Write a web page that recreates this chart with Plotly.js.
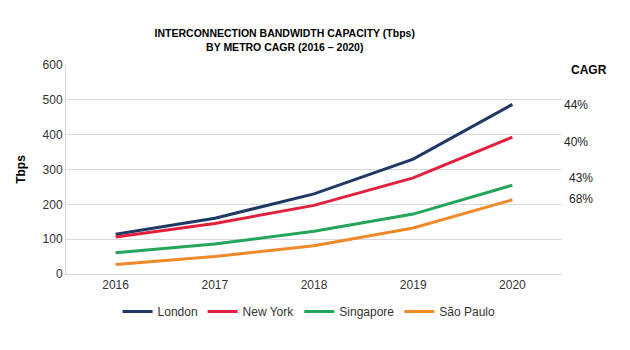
<!DOCTYPE html>
<html>
<head>
<meta charset="utf-8">
<script src="https://cdn.plot.ly/plotly-3.0.1.min.js"></script>
<style>html,body{margin:0;padding:0;background:#fff;}#chart{width:630px;height:350px;}</style>
</head>
<body>
<div id="chart"></div>
<script>
const years = ['2016', '2017', '2018', '2019', '2020'];
const london = [114, 160, 230, 330, 487];
const newYork = [106, 145, 197, 276, 393];
const singapore = [61, 86, 123, 172, 255];
const saoPaulo = [27, 50, 81, 132, 213];
const seriesNames = ['London', 'New York', 'Singapore', 'São Paulo'];
const seriesColors = ['#1f3864', '#e0203c', '#25a55a', '#f0892a'];
const cagrLabels = ['44%', '40%', '43%', '68%'];
const cagrY = [0.809, 0.632, 0.459, 0.359];

const allSeries = [london, newYork, singapore, saoPaulo];
const traces = allSeries.map((vals, i) => ({
  x: years, y: vals, type: 'scatter', mode: 'lines', name: seriesNames[i],
  line: {color: seriesColors[i], width: 3}
}));

const font = 'Liberation Sans, Arial, sans-serif';
const annotations = [{
  xref: 'paper', yref: 'paper', x: 1.015, y: 0.976, xanchor: 'left', yanchor: 'middle',
  text: '<b>CAGR</b>', showarrow: false, font: {family: font, size: 12, color: '#000'}
}].concat(cagrLabels.map((t, i) => ({
  xref: 'paper', yref: 'paper', x: i >= 2 ? 1.01 : 1.0, y: cagrY[i], xanchor: 'left', yanchor: 'middle',
  text: t, showarrow: false, font: {family: font, size: 12, color: '#222'}
})));

const layout = {
  width: 630, height: 350,
  margin: {l: 66, r: 68, t: 65, b: 76, autoexpand: false},
  paper_bgcolor: '#fff', plot_bgcolor: '#fff',
  font: {family: font, size: 12, color: '#333'},
  title: {text: '<b>INTERCONNECTION BANDWIDTH CAPACITY (Tbps)<br>BY METRO CAGR (2016 – 2020)</b>',
    x: 0.452, xanchor: 'center', y: 0.893, yanchor: 'middle', font: {family: font, size: 10.5, color: '#000'}},
  xaxis: {type: 'category', range: [-0.5, 4.5], showgrid: false, zeroline: false,
    showline: true, linecolor: '#d9d9d9', ticks: '', tickfont: {size: 12, color: '#333'}},
  yaxis: {range: [0, 600], dtick: 100, showgrid: true, gridcolor: '#d9d9d9', zeroline: false,
    showline: true, linecolor: '#d9d9d9', ticks: '', tickfont: {size: 12, color: '#333'},
    title: {text: '<b>Tbps</b>', font: {size: 12, color: '#000'}, standoff: 14}},
  legend: {orientation: 'h', x: 0.49, xanchor: 'center', y: -0.18, yanchor: 'middle',
    font: {size: 12, color: '#333'}, itemwidth: 30, tracegroupgap: 0},
  annotations: annotations,
  showlegend: true
};
Plotly.newPlot('chart', traces, layout, {displayModeBar: false, staticPlot: true});
</script>
</body>
</html>
